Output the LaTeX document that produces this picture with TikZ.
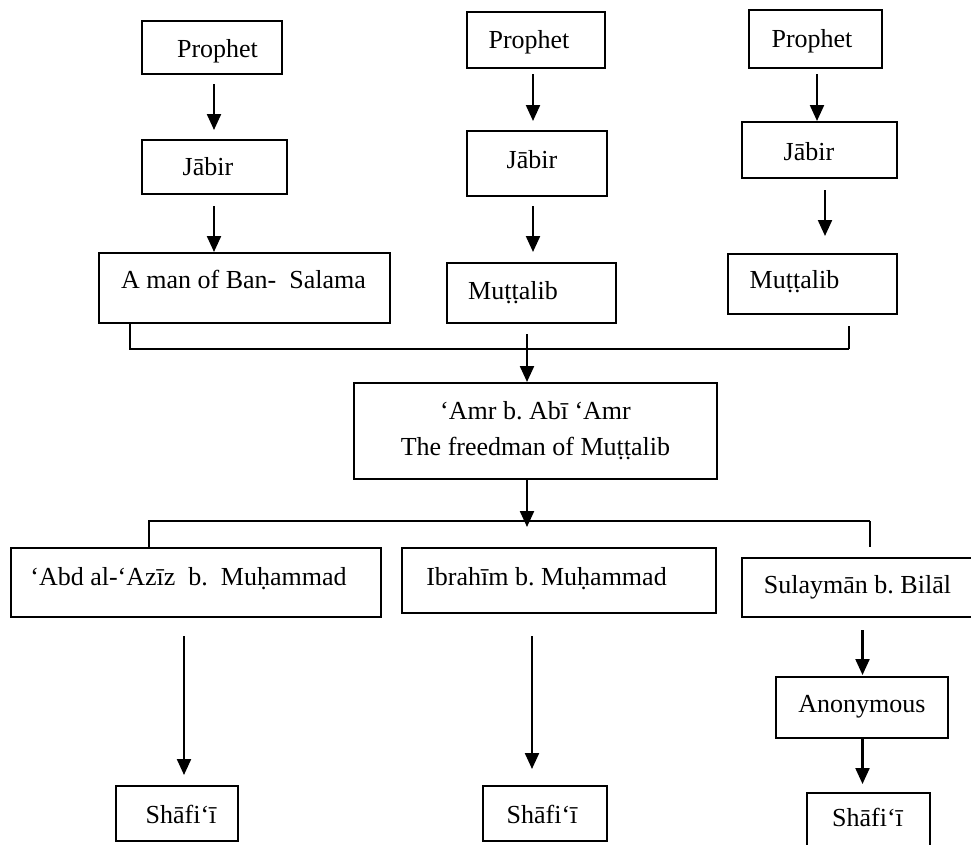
\documentclass[tikz,border=0pt]{standalone}
\usepackage{fontspec}
\setmainfont{Liberation Serif}
\usetikzlibrary{arrows.meta}
\newcommand\tx[3]{\hspace*{#1}\raisebox{#2}{#3}}
\begin{document}
\begin{tikzpicture}[x=1pt,y=-1pt,
  bx/.style={draw, line width=2pt, rectangle, inner sep=0pt,
    font=\fontsize{26pt}{36pt}\selectfont\frenchspacing},
  box/.style={bx, text height=16pt, text depth=0pt},
  arr/.style={line width=2.2pt, -{Triangle[length=16pt,width=14pt]}},
  ln/.style={line width=2pt}]
\useasboundingbox (0,0) rectangle (971,844);
% top row
\node[box, minimum width=140pt, minimum height=53pt] (p1) at (212,47.5) {\tx{11pt}{-2pt}{Prophet}};
\node[box, minimum width=145pt, minimum height=54pt] (j1) at (214.5,167) {\tx{-13pt}{0pt}{Jābir}};
\node[box, minimum width=291pt, minimum height=70pt] (am) at (244.5,288) {\tx{-2pt}{8pt}{A man of Ban-~ Salama}};
\node[box, minimum width=138pt, minimum height=56pt] (p2) at (536,40) {\tx{-14pt}{0pt}{Prophet}};
\node[box, minimum width=140pt, minimum height=65pt] (j2) at (537,163.5) {\tx{-10pt}{3pt}{Jābir}};
\node[box, minimum width=169pt, minimum height=60pt] (m2) at (531.5,293) {\tx{-37pt}{2pt}{Muṭṭalib}};
\node[box, minimum width=133pt, minimum height=58pt] (p3) at (815.5,39) {\tx{-7pt}{0pt}{Prophet}};
\node[box, minimum width=155pt, minimum height=56pt] (j3) at (819.5,150) {\tx{-21pt}{-2pt}{Jābir}};
\node[box, minimum width=169pt, minimum height=60pt] (m3) at (812.5,284) {\tx{-36pt}{4pt}{Muṭṭalib}};
% middle
\node[bx, align=center, minimum width=363pt, minimum height=96pt] (amr) at (535.5,431)
  {‘Amr b. Abī ‘Amr\\The freedman of Muṭṭalib};
% lower row
\node[box, minimum width=370pt, minimum height=69pt] (abd) at (196,582.5) {\tx{-15pt}{5.5pt}{‘Abd al-‘Azīz~ b.~ Muḥammad}};
\node[box, minimum width=314pt, minimum height=65pt] (ibr) at (559,580.5) {\tx{-25pt}{3.5pt}{Ibrahīm b. Muḥammad}};
\node[box, minimum width=231pt, minimum height=59pt] (sul) at (857.5,587.5) {\tx{0pt}{2pt}{Sulaymān b. Bilāl}};
\node[box, minimum width=172pt, minimum height=61pt] (ano) at (862,707.5) {\tx{0pt}{3pt}{Anonymous}};
\node[box, minimum width=122pt, minimum height=55pt] (s1) at (177,813.5) {\tx{8pt}{-1.5pt}{Shāfi‘ī}};
\node[box, minimum width=124pt, minimum height=55pt] (s2) at (545,813.5) {\tx{-6pt}{-1.5pt}{Shāfi‘ī}};
\node[box, minimum width=123pt, minimum height=55pt] (s3) at (868.5,820.5) {\tx{-2pt}{2pt}{Shāfi‘ī}};
% arrows in the top columns
\draw[arr, shorten <=9pt, shorten >=9pt] ([xshift=2pt]p1.south) -- ([xshift=-0.5pt]j1.north);
\draw[arr, shorten <=11pt] ([xshift=-0.5pt]j1.south) -- ([xshift=-30.5pt]am.north);
\draw[arr, shorten <=5pt, shorten >=9pt] ([xshift=-3pt]p2.south) -- ([xshift=-4pt]j2.north);
\draw[arr, shorten <=9pt, shorten >=10pt] ([xshift=-4pt]j2.south) -- ([xshift=1.5pt]m2.north);
\draw[arr, shorten <=5pt] ([xshift=1.5pt]p3.south) -- ([xshift=-2.5pt]j3.north);
\draw[arr, shorten <=11pt, shorten >=17pt] ([xshift=5.5pt]j3.south) -- ([xshift=12.5pt]m3.north);
% merge
\coordinate (jl) at (130,349);
\coordinate (jr) at (849,349);
\draw[ln] ([xshift=-114.5pt]am.south) -- (jl) -- (jr);
\draw[ln, shorten <=11pt] ([xshift=36.5pt]m3.south) -- (jr);
\draw[arr, shorten <=10pt] ([xshift=-4.5pt]m2.south) -- ([xshift=-8.5pt]amr.north);
% split
\coordinate (sm) at (527,527);
\coordinate (sl) at (149,521);
\coordinate (sr) at (870,521);
\draw[arr] ([xshift=-8.5pt]amr.south) -- (sm);
\draw[ln] ([xshift=-47pt]abd.north) -- (sl) -- (sr);
\draw[ln, shorten >=10pt] (sr) -- ([xshift=12.5pt]sul.north);
% lower arrows
\draw[arr, shorten <=18pt, shorten >=10pt] ([xshift=-12pt]abd.south) -- ([xshift=7pt]s1.north);
\draw[arr, shorten <=22pt, shorten >=16pt] ([xshift=-27pt]ibr.south) -- ([xshift=-13pt]s2.north);
\draw[arr, shorten <=12pt, shorten >=1pt] ([xshift=5pt]sul.south) -- ([xshift=0.5pt]ano.north);
\draw[arr, shorten >=8pt] ([xshift=0.5pt]ano.south) -- ([xshift=-6pt]s3.north);
\end{tikzpicture}
\end{document}
